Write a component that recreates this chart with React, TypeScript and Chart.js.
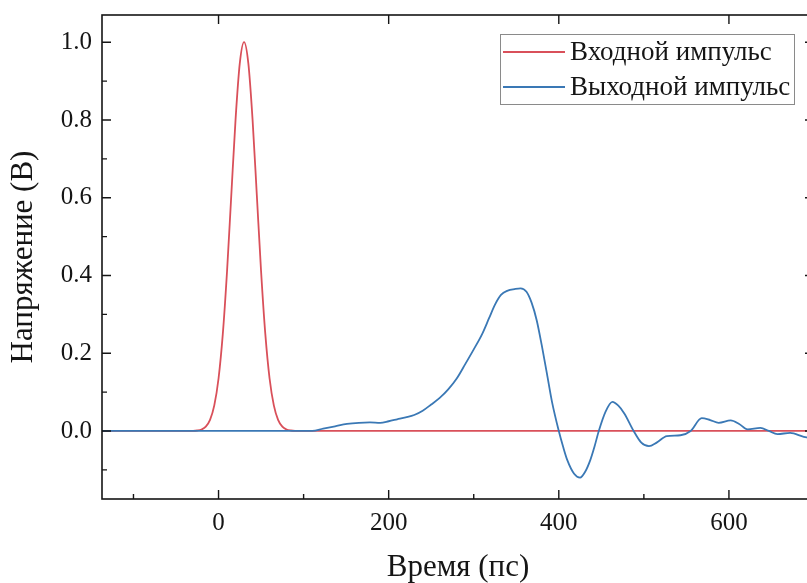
import React, { useEffect, useRef } from "react";
import { Chart, registerables } from "chart.js";

Chart.register(...registerables);

// ---- data ----
const inputLabel = "Входной импульс";
const outputLabel = "Выходной импульс";

const inX = [-137, -30, -25, -20, -15, -10, -5, 0, 5, 10, 15, 20, 25, 30, 35, 40, 45, 50, 55, 60, 65, 70, 75, 80, 85, 90, 700];
const inY = [0, 0.0003, 0.0012, 0.0039, 0.0111, 0.0286, 0.0657, 0.135, 0.249, 0.411, 0.607, 0.801, 0.946, 1.0, 0.946, 0.801, 0.607, 0.411, 0.249, 0.135, 0.0657, 0.0286, 0.0111, 0.0039, 0.0012, 0.0003, 0];

const outX = [-137, -50, 0, 50, 90, 110, 123, 137, 151, 165, 178, 190, 200, 210, 220, 230, 240, 250, 260, 270, 280, 290, 300, 310, 318, 325, 332, 340, 348, 355, 362, 368, 374, 380, 386, 392, 400, 405, 410, 418, 425, 431, 437, 442, 447, 455, 463, 470, 477, 488, 497, 506, 515, 527, 543, 555, 568, 578, 588, 602, 612, 622, 637, 647, 657, 672, 688, 700];
const outY = [0, 0, 0, 0, 0, 0, 0.006, 0.012, 0.018, 0.021, 0.022, 0.021, 0.025, 0.03, 0.035, 0.041, 0.052, 0.068, 0.085, 0.107, 0.135, 0.172, 0.21, 0.25, 0.29, 0.325, 0.35, 0.361, 0.365, 0.367, 0.358, 0.33, 0.285, 0.22, 0.148, 0.075, 0, -0.04, -0.075, -0.11, -0.12, -0.105, -0.075, -0.04, 0, 0.05, 0.075, 0.065, 0.045, 0, -0.03, -0.039, -0.03, -0.013, -0.011, 0, 0.033, 0.028, 0.021, 0.027, 0.018, 0.004, 0.008, 0, -0.008, -0.005, -0.015, -0.02];

const xMajor = [0, 200, 400, 600];
const xMinor = [-100, 100, 300, 500, 700];
const yMajor = [0, 0.2, 0.4, 0.6, 0.8, 1.0];
const yMinor = [-0.1, 0.1, 0.3, 0.5, 0.7, 0.9];

const xRange = [-137, 700];
const yRange = [-0.175, 1.07];

const RED = "#d9505a";
const BLUE = "#3a78b5";
const FONT = "'Liberation Serif', 'DejaVu Serif', serif";
const INK = "#151515";

const framePlugin = {
  id: "frame",
  afterDraw(chart: any) {
    const { ctx, chartArea: a, scales } = chart;
    const xs = scales.x;
    const ys = scales.y;
    ctx.save();
    ctx.strokeStyle = INK;
    ctx.lineWidth = 1.6;
    ctx.strokeRect(a.left, a.top, a.right - a.left, a.bottom - a.top);
    ctx.lineWidth = 1.4;
    ctx.beginPath();
    const MAJ = 9;
    const MIN = 5;
    xMajor.forEach((v) => {
      const p = xs.getPixelForValue(v);
      ctx.moveTo(p, a.bottom); ctx.lineTo(p, a.bottom - MAJ);
      ctx.moveTo(p, a.top); ctx.lineTo(p, a.top + MAJ);
    });
    xMinor.forEach((v) => {
      const p = xs.getPixelForValue(v);
      ctx.moveTo(p, a.bottom); ctx.lineTo(p, a.bottom - MIN);
    });
    yMajor.forEach((v) => {
      const p = ys.getPixelForValue(v);
      ctx.moveTo(a.left, p); ctx.lineTo(a.left + MAJ, p);
      ctx.moveTo(a.right, p); ctx.lineTo(a.right - MAJ, p);
    });
    yMinor.forEach((v) => {
      const p = ys.getPixelForValue(v);
      ctx.moveTo(a.left, p); ctx.lineTo(a.left + MIN, p);
    });
    ctx.stroke();

    // legend
    const bx = 500.5, by = 34.5, bw = 294, bh = 70;
    ctx.lineWidth = 1;
    ctx.strokeStyle = "#8a8a8a";
    ctx.fillStyle = "#ffffff";
    ctx.fillRect(bx, by, bw, bh);
    ctx.strokeRect(bx, by, bw, bh);
    const rows = [52, 87];
    chart.data.datasets.forEach((ds: any, i: number) => {
      const y = rows[i];
      ctx.strokeStyle = ds.borderColor;
      ctx.lineWidth = 1.8;
      ctx.beginPath();
      ctx.moveTo(503, y);
      ctx.lineTo(565, y);
      ctx.stroke();
      ctx.fillStyle = INK;
      ctx.font = `27px ${FONT}`;
      ctx.textBaseline = "middle";
      ctx.textAlign = "left";
      ctx.fillText(ds.label, 570, y + 1);
    });
    ctx.restore();
  },
};

export default function App() {
  const ref = useRef<HTMLCanvasElement>(null);
  useEffect(() => {
    if (!ref.current) return;
    const chart = new Chart(ref.current, {
      type: "line",
      data: {
        datasets: [
          {
            label: inputLabel,
            data: inX.map((x, i) => ({ x, y: inY[i] })),
            borderColor: RED,
            borderWidth: 1.8,
            pointRadius: 0,
            tension: 0.4,
            cubicInterpolationMode: "monotone",
            order: 2,
          },
          {
            label: outputLabel,
            data: outX.map((x, i) => ({ x, y: outY[i] })),
            borderColor: BLUE,
            borderWidth: 1.8,
            pointRadius: 0,
            tension: 0.4,
            cubicInterpolationMode: "monotone",
            order: 1,
          },
        ],
      },
      options: {
        responsive: false,
        animation: false,
        events: [],
        layout: { padding: { top: 15, right: 16, left: 0, bottom: 0 } },
        plugins: { legend: { display: false }, tooltip: { enabled: false } },
        scales: {
          x: {
            type: "linear",
            min: xRange[0],
            max: xRange[1],
            afterBuildTicks: (s: any) => {
              s.ticks = xMajor.map((v) => ({ value: v }));
            },
            afterFit: (s: any) => {
              s.height = 84;
              s.paddingLeft = 0;
              s.paddingRight = 0;
            },
            ticks: {
              font: { family: FONT, size: 25 },
              color: INK,
              padding: 9,
              maxRotation: 0,
              autoSkip: false,
              callback: (v: any) => String(v),
            },
            grid: { display: false, drawTicks: false },
            border: { display: false },
            title: {
              display: true,
              text: "Время (пс)",
              font: { family: FONT, size: 31, lineHeight: 1.0 },
              color: INK,
              padding: 0,
            },
          },
          y: {
            type: "linear",
            min: yRange[0],
            max: yRange[1],
            afterBuildTicks: (s: any) => {
              s.ticks = yMajor.map((v) => ({ value: v }));
            },
            afterFit: (s: any) => {
              s.width = 102;
              s.paddingTop = 0;
              s.paddingBottom = 0;
            },
            ticks: {
              font: { family: FONT, size: 25 },
              color: INK,
              padding: 10,
              autoSkip: false,
              callback: (v: any) => Number(v).toFixed(1),
            },
            grid: { display: false, drawTicks: false },
            border: { display: false },
            title: {
              display: true,
              text: "Напряжение (В)",
              font: { family: FONT, size: 31, lineHeight: 1.2 },
              color: INK,
              padding: { top: 5, bottom: 0 },
            },
          },
        },
      },
      plugins: [framePlugin],
    } as any);
    return () => chart.destroy();
  }, []);
  return (
    <div style={{ position: "fixed", left: 0, top: 0, width: 807, height: 583, overflow: "hidden", background: "#fff" }}>
      <canvas ref={ref} width={830} height={583} style={{ display: "block", width: 830, height: 583 }} />
    </div>
  );
}
